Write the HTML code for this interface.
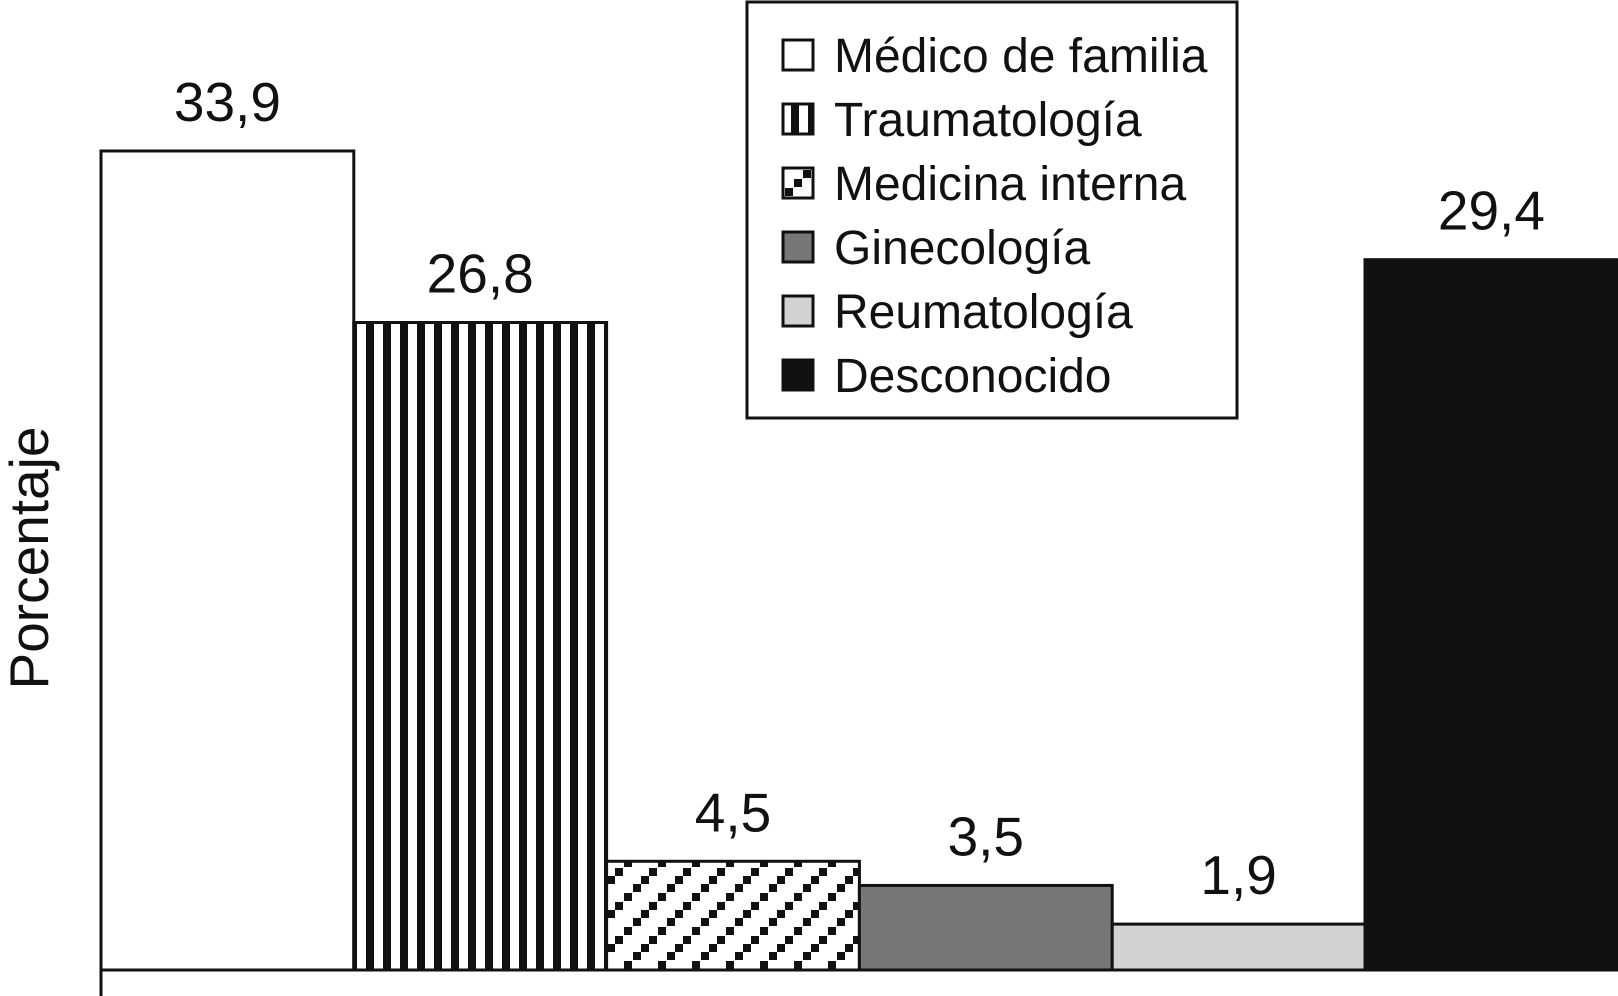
<!DOCTYPE html>
<html><head><meta charset="utf-8"><style>
html,body{margin:0;padding:0;background:#fff}
svg{display:block;font-family:"Liberation Sans",Arial,sans-serif}
</style></head><body>
<svg id="chart" width="1618" height="996" viewBox="0 0 1618 996" xmlns="http://www.w3.org/2000/svg">
<defs>
<pattern id="pStripe" width="17" height="20" patternUnits="userSpaceOnUse" x="366">
<rect x="0" y="0" width="17" height="20" fill="#fff"/><rect x="0" y="0" width="8" height="20" fill="#111"/></pattern>
<pattern id="pDiag" width="34" height="34" patternUnits="userSpaceOnUse" x="607" y="0">
<rect width="34" height="34" fill="#fff"/>
<rect x="0" y="26" width="8" height="8" fill="#111"/>
<rect x="8" y="18" width="8" height="8" fill="#111"/>
<rect x="17" y="9" width="8" height="8" fill="#111"/>
<rect x="26" y="0" width="8" height="8" fill="#111"/>
</pattern>
</defs>
<g id="axis">
<line x1="101" y1="970" x2="1618" y2="970" stroke="#111" stroke-width="3"/>
<line x1="101" y1="970" x2="101" y2="996" stroke="#111" stroke-width="3"/>
</g>
<text transform="translate(48,558) rotate(-90)" text-anchor="middle" font-size="55" fill="#111">Porcentaje</text>
<g id="bars"></g>
<g id="legend">
<rect x="747" y="2" width="490" height="416" fill="#fff" stroke="#111" stroke-width="3"/>
</g>
<script>
const categories = ["Médico de familia","Traumatología","Medicina interna","Ginecología","Reumatología","Desconocido"];
const values = [33.9, 26.8, 4.5, 3.5, 1.9, 29.4];
const valueLabels = ["33,9","26,8","4,5","3,5","1,9","29,4"];
const fills = ["#fff","url(#pStripe)","url(#pDiag)","#777","#d2d2d2","#111"];
const ns="http://www.w3.org/2000/svg";
const baseY=970, pxPerUnit=24.16, x0=101, bw=252.8;
const yScale=v=>baseY-v*pxPerUnit;
const xScale=i=>x0+i*bw;
const bars=document.getElementById('bars');
values.forEach((v,i)=>{
  const r=document.createElementNS(ns,'rect');
  r.setAttribute('x',xScale(i));r.setAttribute('y',yScale(v));
  r.setAttribute('width',bw);r.setAttribute('height',baseY-yScale(v));
  r.setAttribute('fill',fills[i]);r.setAttribute('stroke','#111');r.setAttribute('stroke-width','3');
  
  
  bars.appendChild(r);
  const t=document.createElementNS(ns,'text');
  t.setAttribute('x',xScale(i)+bw/2);t.setAttribute('y',yScale(v)-30);
  t.setAttribute('text-anchor','middle');t.setAttribute('font-size','55');t.setAttribute('fill','#111');
  t.textContent=valueLabels[i];
  
  
  bars.appendChild(t);
});
const lg=document.getElementById('legend');
categories.forEach((c,i)=>{
  const cy=55+i*64;
  const s=document.createElementNS(ns,'rect');
  s.setAttribute('x',783);s.setAttribute('y',cy-15);s.setAttribute('width',30);s.setAttribute('height',30);
  s.setAttribute('fill',fills[i]);s.setAttribute('stroke','#111');s.setAttribute('stroke-width','3');
  
  
  lg.appendChild(s);
  const t=document.createElementNS(ns,'text');
  t.setAttribute('x',834);t.setAttribute('y',cy+17);t.setAttribute('font-size','48');t.setAttribute('fill','#111');
  t.textContent=c;
  
  
  lg.appendChild(t);
});
</script>
</svg>
</body></html>
